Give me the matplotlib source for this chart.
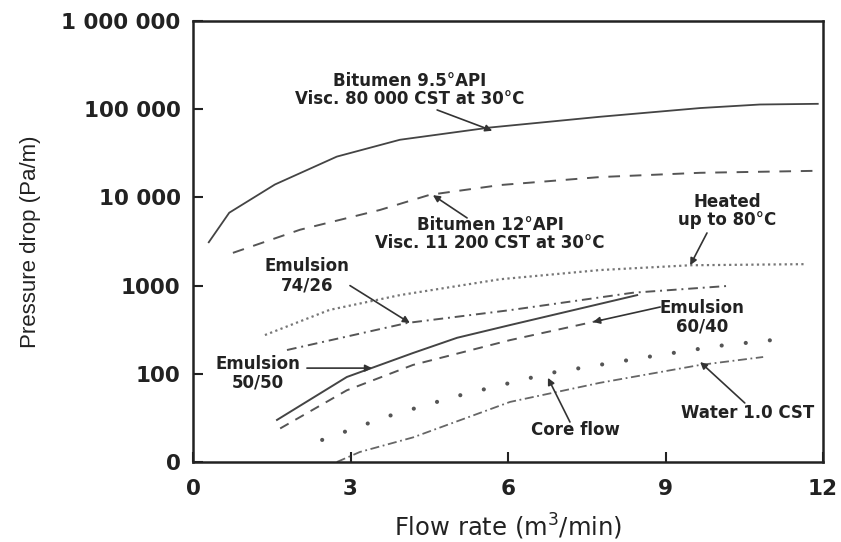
import matplotlib.pyplot as plt

plt.rcParams['font.family'] = ['DejaVu Sans']

# Curve data (flow rate m3/min, pressure drop Pa/m)
bit95_x = [0.3, 0.69, 1.56, 2.74, 3.94, 5.66, 7.75, 9.66, 10.8, 11.9]
bit95_y = [3100, 6700, 14000, 29000, 45000, 62000, 82000, 103000, 113000, 115000]

bit12_x = [0.76, 2.04, 3.56, 4.51, 5.85, 7.75, 9.66, 11.85]
bit12_y = [2350, 4300, 7200, 10700, 13800, 17000, 19000, 20000]

heated_x = [1.37, 2.6, 3.94, 5.85, 7.75, 9.47, 11.66]
heated_y = [275, 530, 780, 1180, 1500, 1700, 1750]

em7426_x = [1.79, 4.08, 6.04, 8.38, 10.23]
em7426_y = [186, 377, 527, 830, 995]

em5050_x = [1.6, 2.93, 4.19, 5.03, 6.04, 8.46]
em5050_y = [30, 92, 172, 256, 357, 780]

em6040_x = [1.66, 2.93, 4.19, 6.04, 7.85]
em6040_y = [24, 65, 126, 241, 415]

core_x = [2.46, 3.71, 5.03, 6.8, 8.65, 10.0, 11.41]
core_y = [17.8, 33, 56, 102, 155, 207, 255]

water_x = [2.74, 3.18, 4.19, 6.04, 7.75, 9.66, 10.86]
water_y = [10, 13, 19, 48, 79, 126, 155]

x_ticks = [0, 3, 6, 9, 12]
y_ticks = [10, 100, 1000, 10000, 100000, 1000000]
y_labels = ['0', '100', '1000', '10 000', '100 000', '1 000 000']

fig = plt.figure(figsize=(8.41, 5.42), dpi=100)
ax = fig.add_axes([0.2295, 0.1476, 0.7491, 0.8137])

lc = '#555555'
ax.plot(bit95_x, bit95_y, color='#444444', lw=1.3)
ax.plot(bit12_x, bit12_y, color=lc, lw=1.4, linestyle=(0, (6, 5)))
ax.plot(heated_x, heated_y, color='#777777', lw=1.6, linestyle=(0, (1, 1.5)))
ax.plot(em7426_x, em7426_y, color=lc, lw=1.4, linestyle=(0, (5, 2.5, 1, 2.5)))
ax.plot(em5050_x, em5050_y, color='#444444', lw=1.4)
ax.plot(em6040_x, em6040_y, color=lc, lw=1.4, linestyle=(0, (5, 4)))
ax.plot(core_x, core_y, color='#555555', lw=3, linestyle=(0, (0.01, 5.8)),
        dash_capstyle='round')
ax.plot(water_x, water_y, color='#666666', lw=1.3, linestyle=(0, (5, 2, 1, 2)))

ax.set_yscale('log')
ax.set_xlim(0, 12)
ax.set_ylim(10, 1000000)
ax.set_xticks(x_ticks)
ax.set_xticklabels([str(v) for v in x_ticks])
ax.set_yticks(y_ticks)
ax.set_yticklabels(y_labels)
ax.minorticks_off()
ax.tick_params(direction='in', length=7, width=1.5, labelsize=15.5,
               colors='#222222')
ax.tick_params(axis='x', pad=12)
ax.tick_params(axis='y', pad=9)
for lab in ax.get_xticklabels() + ax.get_yticklabels():
    lab.set_fontweight('bold')
for s in ax.spines.values():
    s.set_linewidth(1.8)
    s.set_color('#222222')

ax.set_xlabel('Flow rate (m$^3$/min)', fontsize=17.5, color='#222222')
ax.set_ylabel('Pressure drop (Pa/m)', fontsize=16, color='#222222',
              family='Liberation Sans')
ax.xaxis.set_label_coords(0.5, -0.147)
ax.yaxis.set_label_coords(-0.258, 0.5)
ax.xaxis.label.set_va('center')
ax.yaxis.label.set_va('center')

# Labels and arrows
tfs = 12
arrow = dict(arrowstyle='-|>', color='#333333', lw=1.2, mutation_scale=10,
             shrinkA=0, shrinkB=0)
labels = [
    ('Bitumen 9.5°API\nVisc. 80 000 CST at 30°C', (4.13, 165000), (4.65, 98000), (5.7, 57000)),
    ('Bitumen 12°API\nVisc. 11 200 CST at 30°C', (5.66, 3850), (5.22, 5850), (4.57, 10600)),
    ('Heated\nup to 80°C', (10.17, 7000), (9.79, 3950), (9.47, 1700)),
    ('Emulsion\n74/26', (2.17, 1290), (2.99, 1000), (4.13, 377)),
    ('Emulsion\n50/50', (1.24, 102), (2.17, 116), (3.41, 116)),
    ('Emulsion\n60/40', (9.7, 440), (8.9, 572), (7.62, 387)),
    ('Core flow', (7.28, 23), (7.18, 28.4), (6.76, 90)),
    ('Water 1.0 CST', (10.57, 36), (10.51, 46.7), (9.66, 136)),
]
for txt, tpos, tail, head in labels:
    ax.text(tpos[0], tpos[1], txt, fontsize=tfs, ha='center', va='center',
            linespacing=1.05, color='#222222', fontweight='bold')
    ax.annotate('', xy=head, xytext=tail, arrowprops=arrow)

fig.savefig('out.png', dpi=100)
